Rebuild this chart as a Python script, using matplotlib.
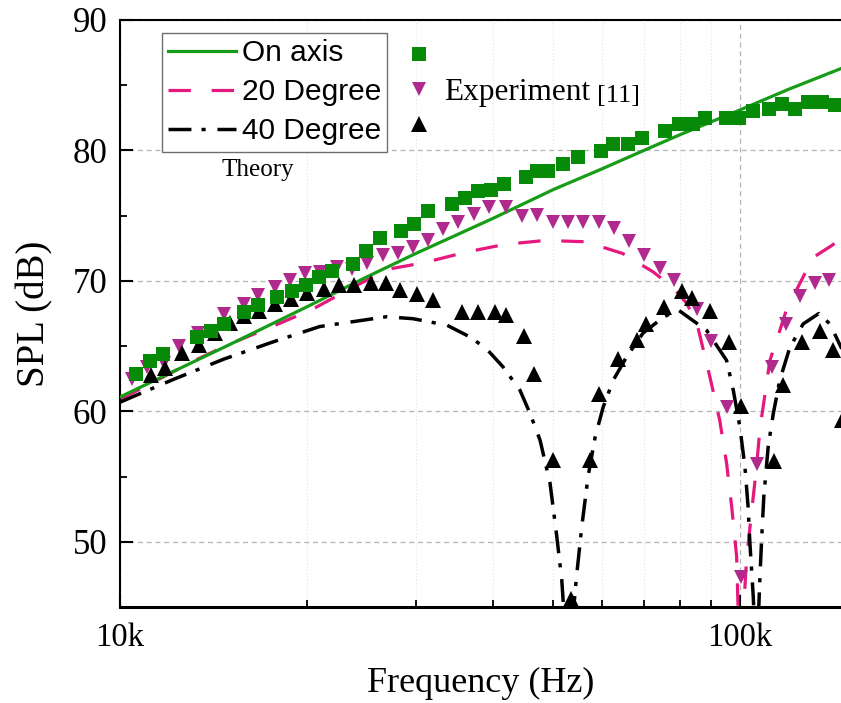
import numpy as np
import matplotlib.pyplot as plt
from matplotlib.lines import Line2D
from matplotlib.ticker import FixedLocator, FuncFormatter, NullFormatter

''' theory curves, frequency in kHz, SPL in dB '''
th_on_f = [10, 12, 15, 20, 25, 30, 40, 50, 60, 70, 80, 100, 120, 146]
th_on_db = [61.1, 62.9, 65.1, 68.0, 70.3, 72.1, 74.8, 77.0, 78.6, 80.0, 81.2, 83.1, 84.7, 86.3]

th_20_f = [10, 13.2, 15.1, 17.6, 20.4, 23.3, 27.1, 31.0, 36.1, 41.8,
           48.5, 56.4, 64.7, 72.4, 78.0, 82.0, 85.2, 89.5, 92.8, 95.2,
           97.0, 98.8, 100, 102.5, 104.4, 106.4, 107.7, 111.8, 116.0, 118.9,
           123.4, 131.3, 140.6, 146]
th_20_db = [60.9, 63.9, 65.2, 66.5, 67.8, 69.3, 70.9, 71.4, 72.2, 72.8,
            73.1, 73.0, 72.1, 70.7, 69.5, 68.3, 66.8, 62.6, 59.3, 56.0,
            52.7, 48.9, 40, 48.6, 52.2, 55.75, 58.6, 63.9, 66.2, 67.8,
            69.3, 71.8, 72.7, 73.3]

th_40_f = [10, 12.2, 14.7, 17.6, 21.0, 26.9, 29.7, 33.7, 36.7, 39.0,
           41.5, 44.2, 45.9, 47.6, 49.4, 50.6, 51.6, 52.8, 54.5, 55.6,
           56.9, 58.4, 60.2, 62.5, 65.7, 69.8, 75.2, 79.4, 88.4, 95.2,
           97.6, 100, 101.9, 103.1, 103.8, 105.1, 106.3, 107.7, 108.4, 109.3,
           111.1, 113.2, 116.0, 120.4, 126.5, 134.1, 139.7, 146]
th_40_db = [60.7, 62.45, 64.0, 65.3, 66.5, 67.25, 67.1, 66.6, 65.7, 64.8,
            63.4, 61.6, 59.8, 57.8, 54.5, 50.6, 47.1, 40, 47.3, 51.2,
            55.0, 58.0, 60.35, 62.4, 64.2, 66.0, 67.2, 67.8, 66.2, 63.9,
            61.6, 58.8, 55.75, 52.7, 49.9, 45.8, 40, 47.1, 50.1, 53.45,
            57.3, 59.8, 62.4, 64.9, 66.7, 67.5, 66.7, 64.8]

''' experiment [11] '''
ex_on_f = [10.6, 11.16, 11.73, 13.29, 14.01, 14.73, 15.85, 16.68, 17.94, 18.92,
           19.92, 20.91, 21.98, 23.76, 24.98, 26.24, 28.38, 29.81, 31.44, 34.28,
           36.02, 37.84, 39.63, 41.64, 45.17, 47.11, 49.07, 51.88, 54.86, 59.62,
           62.47, 66.04, 69.40, 75.68, 79.82, 83.89, 87.80, 95.04, 99.75, 105.1,
           111.5, 116.8, 122.7, 128.9, 135.5, 142.3]
ex_on_db = [62.85, 63.87, 64.39, 65.69, 66.16, 66.72, 67.63, 68.18, 68.75, 69.19,
            69.70, 70.29, 70.75, 71.28, 72.28, 73.31, 73.86, 74.35, 75.34, 75.88,
            76.39, 76.90, 76.95, 77.39, 77.93, 78.43, 78.41, 78.95, 79.46, 79.97,
            80.48, 80.48, 80.96, 81.48, 82.01, 82.01, 82.45, 82.49, 82.51, 83.03,
            83.21, 83.54, 83.14, 83.72, 83.72, 83.52]

ex_20_f = [10.47, 11.07, 11.79, 12.45, 13.38, 14.72, 15.85, 16.72, 17.78, 18.80,
           19.88, 21.02, 22.36, 23.64, 25.00, 26.53, 28.11, 29.73, 31.44, 33.24,
           35.13, 37.20, 39.41, 41.99, 44.56, 47.00, 49.87, 52.80, 55.82, 59.25,
           62.69, 66.28, 70.09, 74.22, 78.26, 85.16, 89.84, 95.17, 100.4, 106.4,
           112.6, 118.9, 125.0, 132.1, 139.2]
ex_20_db = [62.45, 63.4, 63.7, 65.0, 66.0, 67.45, 68.2, 68.95, 69.54, 70.06,
            70.57, 70.69, 71.1, 70.9, 71.4, 71.97, 72.1, 72.6, 73.1, 74.0,
            74.5, 75.1, 75.65, 75.65, 75.0, 75.05, 74.5, 74.5, 74.5, 74.5,
            74.05, 73.05, 72.0, 71.0, 70.06, 67.85, 65.4, 60.35, 47.3, 56.0,
            63.4, 66.7, 68.85, 69.8, 70.1]

ex_40_f = [11.21, 11.83, 12.58, 13.41, 14.23, 15.04, 15.88, 16.76, 17.78, 18.86,
           20.06, 21.33, 22.56, 23.85, 25.38, 26.85, 28.29, 30.19, 32.02, 35.68,
           37.86, 40.34, 41.95, 44.91, 46.53, 49.99, 53.39, 57.30, 59.25, 63.65,
           68.23, 70.55, 75.41, 80.54, 83.58, 89.46, 95.92, 100.6, 113.4, 117.5,
           125.8, 134.6, 141.5, 146.0]
ex_40_db = [62.75, 63.35, 64.5, 65.1, 66.0, 66.74, 67.3, 67.7, 68.2, 68.6,
            69.1, 69.35, 69.72, 69.7, 69.8, 69.8, 69.3, 69.0, 68.55, 67.6,
            67.65, 67.65, 67.4, 65.8, 62.85, 56.26, 45.6, 56.26, 61.3, 64.0,
            65.5, 66.7, 68.0, 69.2, 68.7, 67.7, 65.3, 60.4, 56.2, 62.0,
            65.3, 66.15, 64.7, 59.3]

labels = ['On axis', '20 Degree', '40 Degree']
xtick_vals = [10000, 100000]
ytick_vals = [50, 60, 70, 80, 90]

serif = ['Liberation Serif', 'DejaVu Serif']
sans = ['Liberation Sans', 'DejaVu Sans']

c_green_line = '#169c16'
c_green_mark = '#078a07'
c_pink_line = '#e6177d'
c_pink_mark = '#b02a8e'

def khz(lst):
    return np.array(lst) * 1000.0

fig = plt.figure(figsize=(8.41, 7.03), dpi=100)
ax = fig.add_axes([120 / 841, 1 - 607 / 703, 721 / 841, 587 / 703])

''' theory lines '''
l_on, = ax.plot(khz(th_on_f), th_on_db, color=c_green_line, lw=2.3, zorder=3)
l_20, = ax.plot(khz(th_20_f), th_20_db, color=c_pink_line, lw=2.3, zorder=2)
l_20.set_dashes((7, 6.5))
l_40, = ax.plot(khz(th_40_f), th_40_db, color='black', lw=2.5, zorder=2)
l_40.set_dashes((6.6, 2.9, 1.2, 3.4))

''' experiment markers '''
m_20, = ax.plot(khz(ex_20_f), ex_20_db, 'v', color=c_pink_mark, ms=10.5, mew=0, ls='none', zorder=4)
m_40, = ax.plot(khz(ex_40_f), ex_40_db, '^', color='black', ms=11, mew=0, ls='none', zorder=5)
m_on, = ax.plot(khz(ex_on_f), ex_on_db, 's', color=c_green_mark, ms=10, mew=0, ls='none', zorder=6)

ax.set_xscale('log')
ax.set_xlim(10000, 145600)
ax.set_ylim(45, 90)

ax.xaxis.set_major_locator(FixedLocator(xtick_vals))
ax.xaxis.set_major_formatter(FuncFormatter(lambda v, p: '%dk' % (v / 1000)))
ax.xaxis.set_minor_formatter(NullFormatter())
ax.yaxis.set_major_locator(FixedLocator(ytick_vals))
ax.yaxis.set_minor_locator(FixedLocator([55, 65, 75, 85]))

ax.tick_params(which='both', direction='in', top=False, right=False)
ax.tick_params(which='major', length=9, width=1.5)
ax.tick_params(which='minor', length=5, width=1.3)
ax.tick_params(axis='x', which='major', labelsize=23.5, pad=11)
ax.tick_params(axis='y', which='major', labelsize=25, pad=9)
for lab in ax.get_xticklabels() + ax.get_yticklabels():
    lab.set_family(serif)

ax.grid(which='major', ls=(0, (4, 3)), color='#b4b4b4', lw=0.9, zorder=0)
ax.grid(which='minor', axis='x', ls=(0, (1, 2)), color='#e4e4e4', lw=0.8, zorder=0)

ax.spines['right'].set_visible(False)
for s in ['left', 'top']:
    ax.spines[s].set_linewidth(1.5)
ax.spines['bottom'].set_linewidth(2.2)

ax.set_xlabel('Frequency (Hz)', fontsize=26, family=serif, labelpad=10)
ax.set_ylabel('SPL (dB)', fontsize=28, family=serif, labelpad=14)

''' legends '''
leg1 = ax.legend([l_on, l_20, l_40], labels, loc='upper left',
                 bbox_to_anchor=(0.058, 0.978), borderaxespad=0,
                 prop={'family': sans, 'size': 21.5}, handlelength=2.25,
                 handletextpad=0.2, borderpad=0.22, labelspacing=0.36,
                 fancybox=False, edgecolor='#6e6e6e', framealpha=1)
leg1.get_frame().set_linewidth(1.0)
ax.add_artist(leg1)

h_on = Line2D([], [], marker='s', color=c_green_mark, ms=10, mew=0, ls='none')
h_20 = Line2D([], [], marker='v', color=c_pink_mark, ms=10.5, mew=0, ls='none')
h_40 = Line2D([], [], marker='^', color='black', ms=11, mew=0, ls='none')
leg2 = ax.legend([h_on, h_20, h_40], ['', 'Experiment', ''], loc='upper left',
                 bbox_to_anchor=(0.388, 0.968), borderaxespad=0, frameon=False,
                 prop={'family': serif, 'size': 22.5}, handlelength=1.0,
                 handletextpad=0.3, borderpad=0.12, labelspacing=0.2)

ax.text(0.662, 0.871, '[11]', transform=ax.transAxes, fontsize=19,
        family=serif, va='center', ha='left')
ax.text(0.191, 0.744, 'Theory', transform=ax.transAxes, fontsize=18,
        family=serif, va='center', ha='center')

fig.savefig('out.png', dpi=100)
